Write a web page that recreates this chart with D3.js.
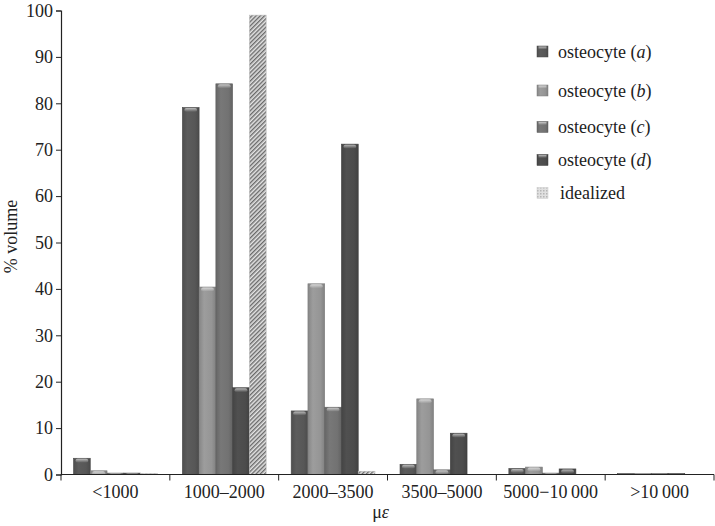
<!DOCTYPE html>
<html>
<head>
<meta charset="utf-8">
<script src="https://cdn.jsdelivr.net/npm/d3@7"></script>
<style>
  body { margin: 0; background: #fff; }
</style>
</head>
<body>
<div id="chart"></div>
<script>
// data
var categories = ["<1000", "1000\u20132000", "2000\u20133500", "3500\u20135000", "5000\u221210\u2009000", ">10\u2009000"];
var seriesNames = ["a", "b", "c", "d", "idealized"];
var osteocyteA = [3.5, 79.1, 13.7, 2.2, 1.3, 0.2];
var osteocyteB = [0.8, 40.4, 41.1, 16.3, 1.6, 0.2];
var osteocyteC = [0.3, 84.2, 14.5, 1.0, 0.3, 0.2];
var osteocyteD = [0.3, 18.7, 71.2, 8.9, 1.2, 0.2];
var idealized  = [0.2, 99.0, 0.7, 0.0, 0.0, 0.0];
var yTicks = [0, 10, 20, 30, 40, 50, 60, 70, 80, 90, 100];

var seriesValues = [osteocyteA, osteocyteB, osteocyteC, osteocyteD, idealized];
var seriesColors = ["#575757", "#959595", "#727272", "#4c4c4c", null];

var FONT = "'Liberation Serif', 'Times New Roman', serif";

var svgWidth = 715;
var svgHeight = 526;
var margin = { top: 10.5, right: 1, bottom: 51.5, left: 61 };
var width = svgWidth - margin.left - margin.right;
var height = svgHeight - margin.top - margin.bottom;

var svg = d3.select("#chart")
  .append("svg")
  .attr("width", svgWidth)
  .attr("height", svgHeight)
  .style("font-family", FONT);

var defs = svg.append("defs");

// cylinder-ish gradients for each bar series
seriesColors.forEach(function(c, i) {
  if (!c) return;
  var base = d3.color(c);
  var g = defs.append("linearGradient")
    .attr("id", "grad" + i)
    .attr("x1", "0%").attr("x2", "100%");
  g.append("stop").attr("offset", "0%").attr("stop-color", base.darker(0.3));
  g.append("stop").attr("offset", "30%").attr("stop-color", base.brighter(0.15));
  g.append("stop").attr("offset", "75%").attr("stop-color", base);
  g.append("stop").attr("offset", "100%").attr("stop-color", base.darker(0.4));
});

var hl = defs.append("linearGradient")
  .attr("id", "hl").attr("x1", "0%").attr("x2", "0%").attr("y1", "0%").attr("y2", "100%");
hl.append("stop").attr("offset", "0%").attr("stop-color", "#fff").attr("stop-opacity", 0.6);
hl.append("stop").attr("offset", "100%").attr("stop-color", "#fff").attr("stop-opacity", 0);

// hatch for idealized
var pat = defs.append("pattern")
  .attr("id", "hatch")
  .attr("patternUnits", "userSpaceOnUse")
  .attr("width", 3).attr("height", 3)
  .attr("patternTransform", "rotate(45)");
pat.append("rect").attr("width", 3).attr("height", 3).attr("fill", "#e4e4e4");
pat.append("rect").attr("width", 1.4).attr("height", 3).attr("fill", "#6a6a6a");

// dotted swatch for idealized legend
var dots = defs.append("pattern")
  .attr("id", "dots")
  .attr("patternUnits", "userSpaceOnUse")
  .attr("width", 3).attr("height", 3);
dots.append("rect").attr("width", 3).attr("height", 3).attr("fill", "#e0e0e0");
dots.append("rect").attr("width", 1.5).attr("height", 1.5).attr("fill", "#b5b5b5");

var chartGroup = svg.append("g")
  .attr("transform", `translate(${margin.left}, ${margin.top})`);

var xBand = d3.scaleBand()
  .domain(categories)
  .range([0, width])
  .paddingInner(0.23)
  .paddingOuter(0.115);

var xInner = d3.scaleBand()
  .domain(seriesNames)
  .range([0, xBand.bandwidth()]);

var yLinearScale = d3.scaleLinear()
  .domain([0, 100])
  .range([height, 0]);

// bars
seriesValues.forEach(function(vals, i) {
  var g = chartGroup.append("g");
  var fill = seriesColors[i] ? "url(#grad" + i + ")" : "url(#hatch)";
  var stroke = seriesColors[i] ? d3.color(seriesColors[i]).darker(0.5) : "#bbb";
  g.selectAll("rect.bar")
    .data(vals)
    .enter()
    .append("rect")
    .attr("class", "bar")
    .attr("x", (d, j) => xBand(categories[j]) + xInner(seriesNames[i]))
    .attr("y", d => yLinearScale(d))
    .attr("width", xInner.bandwidth())
    .attr("height", d => height - yLinearScale(d))
    .attr("fill", fill)
    .attr("stroke", d => d > 0 ? stroke : "none")
    .attr("stroke-width", 0.6);

  if (seriesColors[i]) {
    g.selectAll("rect.hl")
      .data(vals)
      .enter()
      .append("rect")
      .attr("class", "hl")
      .attr("x", (d, j) => xBand(categories[j]) + xInner(seriesNames[i]) + 2)
      .attr("y", d => yLinearScale(d) + 0.5)
      .attr("width", xInner.bandwidth() - 4)
      .attr("height", d => Math.min(4, height - yLinearScale(d)))
      .attr("rx", 2)
      .attr("fill", "url(#hl)");
  }
});

// y axis
var leftAxis = d3.axisLeft(yLinearScale)
  .tickValues(yTicks)
  .tickSize(5)
  .tickPadding(3);

var yAxisG = chartGroup.append("g").call(leftAxis)
  .attr("font-family", null);
yAxisG.select(".domain").attr("stroke", "#222").attr("stroke-width", 1.2);
yAxisG.selectAll(".tick line").attr("stroke", "#222");
yAxisG.selectAll("text")
  .style("font-family", FONT)
  .style("font-size", "18px")
  .attr("fill", "#222");

// x axis line with boundary ticks
var xAxisG = chartGroup.append("g")
  .attr("transform", `translate(0, ${height})`);
xAxisG.append("line")
  .attr("x1", 0).attr("x2", width)
  .attr("stroke", "#222").attr("stroke-width", 1.2);

var step = xBand.step();
var bounds = d3.range(categories.length + 1).map(k => xBand(categories[0]) - xBand.paddingOuter() * step + k * step);
xAxisG.selectAll("line.tk")
  .data(bounds)
  .enter()
  .append("line")
  .attr("class", "tk")
  .attr("x1", d => d).attr("x2", d => d)
  .attr("y1", 0).attr("y2", 6)
  .attr("stroke", "#222");

xAxisG.selectAll("text.cat")
  .data(categories)
  .enter()
  .append("text")
  .attr("class", "cat")
  .attr("x", d => xBand(d) + xBand.bandwidth() / 2)
  .attr("y", 23)
  .attr("text-anchor", "middle")
  .attr("fill", "#222")
  .style("font-family", FONT)
  .style("font-size", "18px")
  .text(d => d);

// axis titles
chartGroup.append("text")
  .attr("transform", "rotate(-90)")
  .attr("x", -226)
  .attr("y", 17 - margin.left)
  .attr("text-anchor", "middle")
  .attr("fill", "#222")
  .style("font-family", FONT)
  .style("font-size", "18px")
  .text("% volume");

var xt = chartGroup.append("text")
  .attr("x", width / 2 - 7)
  .attr("y", height + 43.5)
  .attr("text-anchor", "middle")
  .attr("fill", "#222")
  .style("font-family", FONT)
  .style("font-size", "18px");
xt.append("tspan").text("\u03bc");
xt.append("tspan").style("font-style", "italic").text("\u03b5");

// legend
var legendRows = [51.5, 90.5, 127, 160, 193];
var legend = svg.append("g");
seriesNames.forEach(function(name, i) {
  var row = legend.append("g").attr("transform", `translate(537, ${legendRows[i]})`);
  row.append("rect")
    .attr("x", 0).attr("y", -5.5)
    .attr("width", 11).attr("height", 11)
    .attr("fill", seriesColors[i] ? "url(#grad" + i + ")" : "url(#dots)")
    .attr("stroke", seriesColors[i] ? d3.color(seriesColors[i]).darker(0.5) : "#ccc")
    .attr("stroke-width", 0.5);
  if (seriesColors[i]) {
    row.append("rect")
      .attr("x", 1.5).attr("y", -5)
      .attr("width", 8).attr("height", 3)
      .attr("fill", "url(#hl)");
  }
  var t = row.append("text")
    .attr("x", i === 4 ? 23 : 21)
    .attr("y", 0)
    .attr("dy", "0.35em")
    .attr("fill", "#222")
    .style("font-family", FONT)
    .style("font-size", "18px");
  if (i < 4) {
    t.append("tspan").text("osteocyte (");
    t.append("tspan").style("font-style", "italic").text(name);
    t.append("tspan").text(")");
  } else {
    t.text("idealized");
  }
});
</script>
</body>
</html>
